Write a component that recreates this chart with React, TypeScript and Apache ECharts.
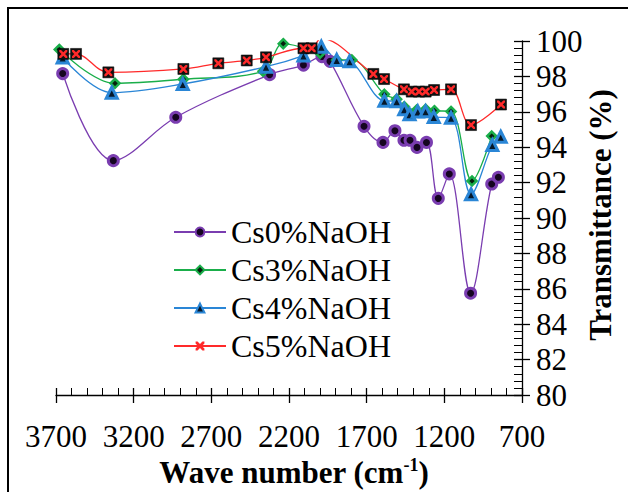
import React, { useEffect, useRef } from "react";
import * as echarts from "echarts";

const seriesNames = ["Cs0%NaOH", "Cs3%NaOH", "Cs4%NaOH", "Cs5%NaOH"];

const cs0Wave = [3657, 3331, 2929, 2325, 2107, 1988, 1936, 1717, 1595, 1518, 1460, 1421, 1376, 1315, 1239, 1168, 1031, 895, 852];
const cs0T = [98.16, 93.24, 95.69, 98.1, 98.64, 99.12, 98.85, 95.18, 94.27, 94.93, 94.39, 94.39, 93.99, 94.27, 91.11, 92.49, 85.75, 91.92, 92.3];

const cs3Wave = [3679, 3320, 2880, 2367, 2237, 2000, 1893, 1796, 1586, 1507, 1458, 1378, 1320, 1264, 1157, 1022, 895];
const cs3T = [99.52, 97.61, 97.84, 98.29, 99.85, 99.31, 98.93, 98.93, 96.99, 96.71, 96.29, 96.1, 96.14, 96.06, 96.02, 92.09, 94.63];

const cs4Wave = [3657, 3341, 2884, 2348, 2107, 1992, 1893, 1810, 1586, 1507, 1458, 1424, 1371, 1321, 1268, 1157, 1028, 891, 837];
const cs4T = [99.07, 97.08, 97.57, 98.55, 99.18, 99.68, 98.93, 98.85, 96.62, 96.6, 96.15, 95.86, 96.02, 96.03, 95.71, 95.66, 91.34, 94.12, 94.59];

const cs5Wave = [3653, 3571, 3363, 2880, 2655, 2472, 2348, 2107, 2054, 1994, 1657, 1588, 1460, 1410, 1363, 1320, 1266, 1157, 1028, 835];
const cs5T = [99.27, 99.27, 98.23, 98.42, 98.74, 98.9, 99.08, 99.59, 99.59, 100.15, 98.14, 97.85, 97.27, 97.14, 97.14, 97.14, 97.23, 97.27, 95.25, 96.41];

const xTicksMin = 700;
const xTicksMax = 3700;
const yMin = 80;
const yMax = 100;

const pairs = (xs: number[], ys: number[]) => xs.map((x, i) => [x, ys[i]]);

const FONT = "Liberation Serif";
const X_PATH = "path://M0,0 L2.2,0 L5,2.8 L7.8,0 L10,0 L10,2.2 L7.2,5 L10,7.8 L10,10 L7.8,10 L5,7.2 L2.2,10 L0,10 L0,7.8 L2.8,5 L0,2.2 Z";

export default function App() {
  const ref = useRef<HTMLDivElement>(null);
  useEffect(() => {
    if (!ref.current) return;
    const chart = echarts.init(ref.current, undefined, { renderer: "svg" });
    const purple = "#7a3db0";
    const green = "#1aae4a";
    const blue = "#2a86d6";
    const red = "#ff2a2a";
    const common = {
      type: "line",
      smooth: 0.35,
      xAxisIndex: 0,
      yAxisIndex: 0,
    };
    const fmt = (v: number) => String(v);
    const tickLine = { color: "#000", width: 1.3 };
    chart.setOption({
      animation: false,
      backgroundColor: "#ffffff",
      textStyle: { fontFamily: FONT },
      grid: { left: 56, right: 106, top: 41, bottom: 97, containLabel: false },
      legend: {
        data: seriesNames,
        orient: "vertical",
        left: 173,
        top: 216,
        padding: 0,
        itemGap: 6,
        itemWidth: 52,
        itemHeight: 11,
        textStyle: { fontFamily: FONT, fontSize: 32, color: "#000", lineHeight: 32 },
      },
      xAxis: [
        {
          type: "value",
          inverse: true,
          min: xTicksMin,
          max: xTicksMax,
          interval: 500,
          position: "bottom",
          axisLine: { show: true, onZero: false, lineStyle: tickLine },
          axisTick: { show: true, inside: true, length: 7, lineStyle: tickLine },
          minorTick: { show: true, splitNumber: 5, length: 7, lineStyle: { color: "#000", width: 1 } },
          axisLabel: { color: "#000", fontFamily: FONT, fontSize: 31, margin: 26, formatter: fmt },
          splitLine: { show: false },
          minorSplitLine: { show: false },
        },
        {
          type: "value",
          inverse: true,
          min: xTicksMin,
          max: xTicksMax,
          interval: 500,
          position: "bottom",
          axisLine: { show: false, onZero: false },
          axisTick: { show: true, inside: false, length: 8, lineStyle: tickLine },
          axisLabel: { show: false },
          splitLine: { show: false },
        },
      ],
      yAxis: [
        {
          type: "value",
          position: "right",
          min: yMin,
          max: yMax,
          interval: 2,
          axisLine: { show: true, lineStyle: tickLine },
          axisTick: { show: true, inside: true, length: 8, lineStyle: tickLine },
          minorTick: { show: true, splitNumber: 5, length: 8, lineStyle: { color: "#000", width: 1 } },
          axisLabel: { color: "#000", fontFamily: FONT, fontSize: 31, margin: 14, formatter: fmt },
          splitLine: { show: false },
        },
        {
          type: "value",
          position: "right",
          min: yMin,
          max: yMax,
          interval: 2,
          axisLine: { show: false },
          axisTick: { show: true, inside: false, length: 8, lineStyle: tickLine },
          axisLabel: { show: false },
          splitLine: { show: false },
        },
      ],
      series: [
        {
          ...common,
          name: seriesNames[0],
          data: pairs(cs0Wave, cs0T),
          symbol: "circle",
          symbolSize: 10,
          lineStyle: { color: purple, width: 1.3 },
          itemStyle: { color: "#150520", borderColor: purple, borderWidth: 3 },
        },
        {
          ...common,
          name: seriesNames[1],
          data: pairs(cs3Wave, cs3T),
          symbol: "diamond",
          symbolSize: 9,
          lineStyle: { color: green, width: 1.3 },
          itemStyle: { color: "#06200e", borderColor: green, borderWidth: 2.5 },
        },
        {
          ...common,
          name: seriesNames[2],
          data: pairs(cs4Wave, cs4T),
          symbol: "triangle",
          symbolSize: 11,
          lineStyle: { color: blue, width: 1.3 },
          itemStyle: { color: "#06182a", borderColor: blue, borderWidth: 3 },
        },
        {
          ...common,
          name: "cs5-box",
          data: pairs(cs5Wave, cs5T),
          symbol: "rect",
          symbolSize: 11,
          lineStyle: { color: red, width: 0 },
          itemStyle: { color: "#111", borderColor: "#000", borderWidth: 0.5 },
        },
        {
          ...common,
          name: seriesNames[3],
          data: pairs(cs5Wave, cs5T),
          symbol: X_PATH,
          symbolSize: 8,
          lineStyle: { color: red, width: 1.3 },
          itemStyle: { color: red },
        },
      ],
      graphic: [
        {
          type: "rect",
          shape: { x: 8, y: 8, width: 900, height: 900 },
          style: { fill: "none", stroke: "#000", lineWidth: 2 },
          silent: true,
        },
        {
          type: "text",
          x: 294,
          y: 472,
          style: {
            text: "{a|Wave number (cm}{s|-1}{a|)}",
            align: "center",
            verticalAlign: "middle",
            rich: {
              a: { fontFamily: FONT, fontSize: 31, fontWeight: "bold", fill: "#000", lineHeight: 32 },
              s: { fontFamily: FONT, fontSize: 18, fontWeight: "bold", fill: "#000", verticalAlign: "top", lineHeight: 18 },
            },
          },
        },
        {
          type: "text",
          x: 600,
          y: 215,
          rotation: Math.PI / 2,
          style: {
            text: "Transmittance (%)",
            fontFamily: FONT,
            fontSize: 31,
            fontWeight: "bold",
            fill: "#000",
            align: "center",
            verticalAlign: "middle",
          },
        },
      ],
    });
    return () => chart.dispose();
  }, []);
  return (
    <div
      ref={ref}
      style={{ position: "absolute", left: 0, top: 0, width: 628, height: 492 }}
    />
  );
}
